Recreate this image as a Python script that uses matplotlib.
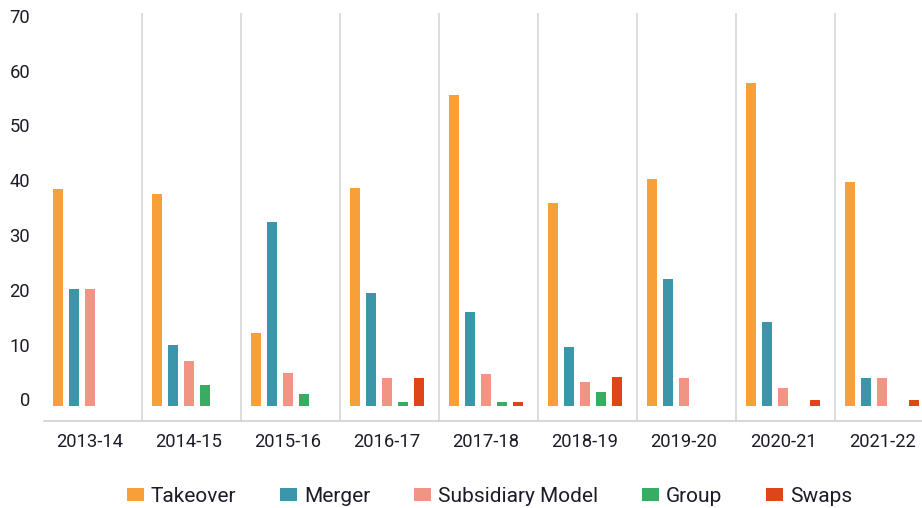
import matplotlib
matplotlib.use('Agg')
import matplotlib.pyplot as plt
import numpy as np

# 数据
years = ['2013-14', '2014-15', '2015-16', '2016-17', '2017-18',
         '2018-19', '2019-20', '2020-21', '2021-22']
takeover = [39.7, 38.7, 13.4, 39.8, 56.8, 37.1, 41.5, 59.0, 40.9]
merger = [21.4, 11.2, 33.6, 20.7, 17.2, 10.8, 23.2, 15.4, 5.2]
subsidiary = [21.4, 8.3, 6.1, 5.2, 5.9, 4.4, 5.2, 3.3, 5.2]
group = [0, 3.9, 2.2, 0.8, 0.8, 2.6, 0, 0, 0]
swaps = [0, 0, 0, 5.2, 0.8, 5.3, 0, 1.1, 1.1]

series = [('Takeover', takeover, '#F7A038'),
          ('Merger', merger, '#3A96A8'),
          ('Subsidiary Model', subsidiary, '#F29483'),
          ('Group', group, '#38AC62'),
          ('Swaps', swaps, '#E04419')]

text_color = '#1C1C28'
plt.rcParams['font.family'] = ['Roboto', 'DejaVu Sans']

fig = plt.figure(figsize=(9.22, 5.08), dpi=100)
ax = fig.add_axes([0.0473, 0.1707, 0.9738, 0.8037])

x = np.arange(len(years))
width = 0.101
step = 0.1616

# 柱状图
for j, (name, vals, color) in enumerate(series):
    ax.bar(x + (j - 2) * step, vals, width=width, color=color, label=name)

# 分隔线
for i in range(len(years) - 1):
    ax.axvline(i + 0.52, color='#D3D3D3', lw=1.1, zorder=0)

ax.set_xlim(-0.469, 8.6)
ax.set_ylim(-2.74, 71.8)

for s in ['top', 'right', 'left']:
    ax.spines[s].set_visible(False)
ax.spines['bottom'].set_color('#CCCCCC')
ax.spines['bottom'].set_linewidth(1.1)

ax.set_xticks(x)
ax.set_xticklabels(years)
ax.set_yticks(range(0, 71, 10))
ax.tick_params(axis='x', length=0, pad=8.5, labelsize=13.2, labelcolor=text_color)
ax.tick_params(axis='y', length=0, pad=9.8, labelsize=13.2, labelcolor=text_color)
plt.setp(ax.get_yticklabels(), va='baseline')

# 图例
leg = fig.legend(loc='center', bbox_to_anchor=(0.531, 0.0236), ncol=5, frameon=False,
                 fontsize=15, handlelength=0.8, handleheight=0.6,
                 handletextpad=0.35, columnspacing=2.1)
for t in leg.get_texts():
    t.set_color(text_color)

plt.savefig('out.png', dpi=100)
